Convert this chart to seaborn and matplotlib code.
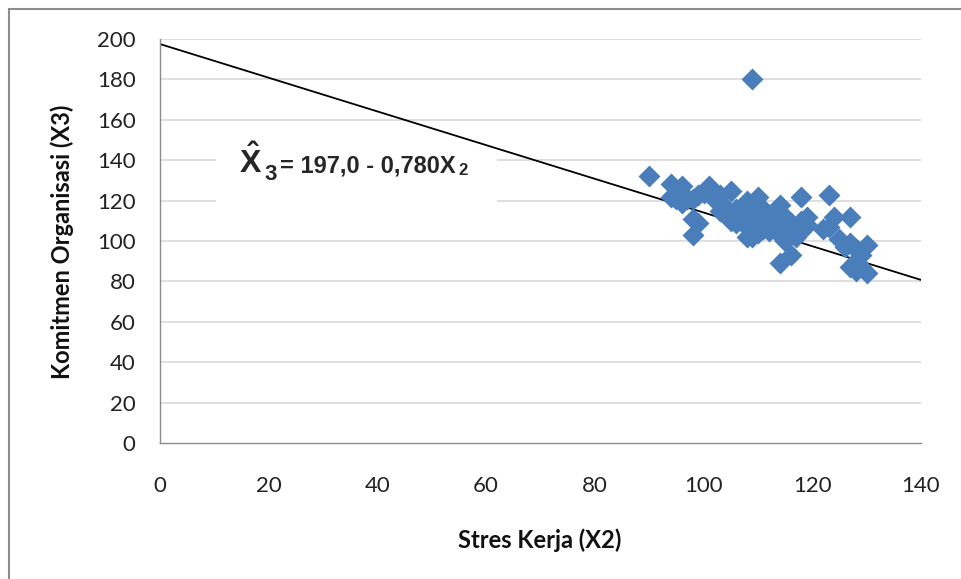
import matplotlib
matplotlib.use("Agg")
import matplotlib.pyplot as plt
import seaborn as sns
import pandas as pd
from matplotlib.patches import Rectangle

# Data
stres_kerja = [90, 94, 94, 95, 96, 96, 96, 97, 98, 98, 98, 99, 99, 100, 101, 102,
               103, 103, 104, 105, 105, 106, 106, 106, 107, 107, 108, 108, 108, 108,
               109, 109, 109, 109, 110, 110, 110, 110, 111, 111, 111, 112, 112, 112,
               113, 113, 114, 114, 114, 114, 115, 115, 115, 116, 116, 116, 117, 117,
               118, 118, 118, 119, 119, 122, 123, 123, 124, 125, 126, 127, 127, 127,
               128, 128, 128, 129, 129, 130, 130]
komitmen = [132, 128, 122, 121, 127, 119, 124, 121, 111, 103, 121, 109, 123, 124, 127, 121,
            123, 115, 117, 125, 110, 116, 112, 109, 113, 110, 120, 102, 111, 107,
            180, 105, 115, 102, 122, 108, 112, 104, 116, 110, 106, 113, 109, 105,
            111, 107, 118, 89, 103, 110, 112, 100, 106, 93, 109, 104, 107, 102,
            122, 105, 110, 112, 108, 106, 123, 107, 112, 101, 97, 112, 99, 87,
            85, 96, 90, 93, 87, 98, 84]

line_x = [0, 140]
intercept = 197.5
slope = -0.834

x_ticks = [0, 20, 40, 60, 80, 100, 120, 140]
y_ticks = [0, 20, 40, 60, 80, 100, 120, 140, 160, 180, 200]

df = pd.DataFrame({"x": stres_kerja, "y": komitmen})
line_df = pd.DataFrame({"x": line_x, "y": [intercept + slope * v for v in line_x]})

sns.set_style("white")
plt.rcParams['font.family'] = ['Lato', 'DejaVu Sans']
plt.rcParams['mathtext.fontset'] = 'custom'
plt.rcParams['mathtext.bf'] = 'Liberation Sans:bold'
plt.rcParams['mathtext.rm'] = 'Liberation Sans'

W, H = 962, 579
fig = plt.figure(figsize=(W / 100, H / 100), dpi=100)
ax = fig.add_axes([160 / W, 1 - 443 / H, (921 - 160) / W, (443 - 39) / H])

def fx(px):
    return px / W

def fy(py):
    return 1 - py / H

# outer frame (right and bottom edges fall outside the picture)
fig.patches.append(Rectangle((fx(9), fy(600)), fx(1000) - fx(9), fy(9) - fy(600),
                             transform=fig.transFigure, fill=False,
                             edgecolor="#8c8c8c", linewidth=1.5, zorder=0))

for yt in y_ticks[1:]:
    ax.axhline(yt, color="#d9d9d9", linewidth=1.2, zorder=0)

sns.lineplot(data=line_df, x="x", y="y", ax=ax, color="black", linewidth=1.3, zorder=2)
sns.scatterplot(data=df, x="x", y="y", ax=ax, marker="D", s=125, color="#4a7ebb",
                linewidth=0, zorder=3)

ax.set_xlim(0, 140)
ax.set_ylim(0, 200)
ax.set_xticks(x_ticks)
ax.set_yticks(y_ticks)
ax.tick_params(axis="both", which="both", direction="out", length=6.5, width=1,
               color="#8c8c8c", labelsize=16, labelcolor="#222222")
ax.tick_params(axis="x", pad=17)
ax.tick_params(axis="y", pad=11)
for side in ["top", "right"]:
    ax.spines[side].set_visible(False)
for side in ["left", "bottom"]:
    ax.spines[side].set_color("#8c8c8c")
    ax.spines[side].set_linewidth(1)

ax.set_xlabel("")
ax.set_ylabel("")
fig.text(fx(540), fy(540), "Stres Kerja (X2)", fontsize=17, fontweight="bold",
         ha="center", va="center", color="#111111")
fig.text(fx(62), fy(242), "Komitmen Organisasi (X3)", fontsize=17, fontweight="bold",
         ha="center", va="center", rotation=90, color="#111111")

# white box behind the equation
ax.add_patch(Rectangle((0.073, 0.58), 0.37, 0.2, transform=ax.transAxes,
                       facecolor="white", edgecolor="none", zorder=1))
fig.text(fx(239), fy(173), r"$\mathbf{\hat{X}}$", fontsize=23, va="baseline",
         ha="left", zorder=4)
fig.text(fx(264), fy(180), "3", fontsize=16, fontweight="bold", va="baseline",
         ha="left", family=["Liberation Sans", "DejaVu Sans"], zorder=4)
fig.text(fx(280), fy(173), "= 197,0 - 0,780X", fontsize=17, fontweight="bold",
         va="baseline", ha="left", family=["Liberation Sans", "DejaVu Sans"], zorder=4)
fig.text(fx(458), fy(175), "2", fontsize=12, fontweight="bold", va="baseline",
         ha="left", family=["Liberation Sans", "DejaVu Sans"], zorder=4)

fig.savefig("out.png", dpi=100)
